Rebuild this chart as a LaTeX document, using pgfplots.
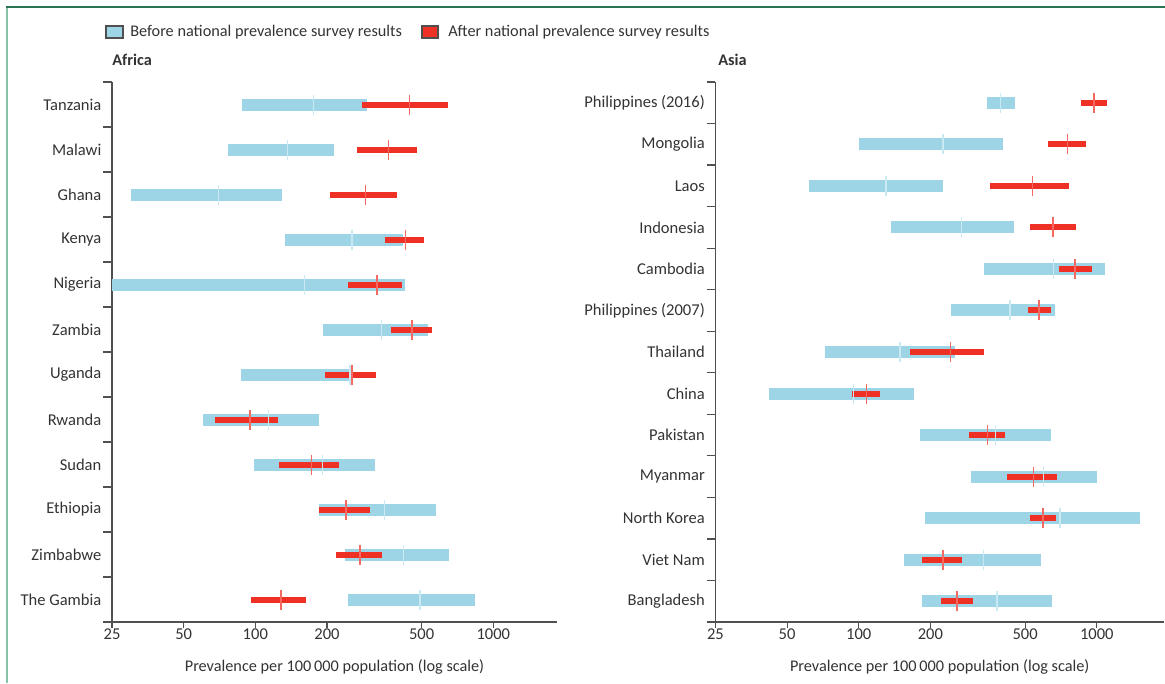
\documentclass[border=0pt]{standalone}
\usepackage{pgfplots}
\pgfplotsset{compat=1.18}
\usepackage{pgfplotstable}
\usepackage{fontspec}
\setmainfont{Carlito}

\definecolor{cBlue}{HTML}{9DD4E6}
\definecolor{cBlueTick}{HTML}{C9EAF5}
\definecolor{cRed}{HTML}{EE3124}
\definecolor{cRedTick}{HTML}{F46A63}
\definecolor{cText}{HTML}{333333}
\definecolor{cAxis}{HTML}{505050}
\definecolor{cFrameTop}{HTML}{2A7352}
\definecolor{cFrameLeft}{HTML}{86C4A6}

% ---------- Africa: before (blue) ranges, one segment per country ----------
\pgfplotstableread{
x y
88 11
294 11
nan nan
77 10
215 10
nan nan
30 9
129 9
nan nan
133 8
418 8
nan nan
25 7
424 7
nan nan
192 6
532 6
nan nan
87 5
255 5
nan nan
60 4
185 4
nan nan
99 3
318 3
nan nan
185 2
576 2
nan nan
237 1
654 1
nan nan
244 0
835 0
}\afB
% ---------- Africa: after (red) ranges ----------
\pgfplotstableread{
x y
280 11
647 11
nan nan
267 10
479 10
nan nan
205 9
395 9
nan nan
350 8
513 8
nan nan
244 7
412 7
nan nan
371 6
554 6
nan nan
197 5
323 5
nan nan
67.5 4
125 4
nan nan
126 3
225 3
nan nan
186 2
303 2
nan nan
219 1
340 1
nan nan
96 0
164 0
}\afR
% ---------- Africa: point estimates ----------
\pgfplotstableread{
y bmid rmid
11 175 444
10 137 363
9 70 291
8 255 427
7 161 324
6 340 456
5 250 255
4 114 95
3 192 172
2 350 240
1 420 275
0 492 128
}\afM

% ---------- Asia: before (blue) ranges ----------
\pgfplotstableread{
x y
347 12
453 12
nan nan
100 11
403 11
nan nan
61.5 10
226 10
nan nan
137 9
449 9
nan nan
337 8
1082 8
nan nan
244 7
668 7
nan nan
72 6
253 6
nan nan
42 5
171 5
nan nan
181 4
642 4
nan nan
297 3
1000 3
nan nan
190 2
1525 2
nan nan
155 1
582 1
nan nan
185 0
649 0
}\asB
% ---------- Asia: after (red) ranges ----------
\pgfplotstableread{
x y
860 12
1102 12
nan nan
624 11
901 11
nan nan
357 10
763 10
nan nan
525 9
817 9
nan nan
695 8
954 8
nan nan
513 7
642 7
nan nan
164 6
337 6
nan nan
94 5
123 5
nan nan
291 4
412 4
nan nan
420 3
680 3
nan nan
525 2
675 2
nan nan
185 1
272 1
nan nan
222 0
301 0
}\asR
% ---------- Asia: point estimates ----------
\pgfplotstableread{
y bmid rmid
12 395 975
11 226 755
10 130 538
9 271 656
8 656 811
7 432 572
6 149 243
5 95 108
4 375 348
3 595 542
2 700 595
1 334 226
0 381 259
}\asM

\begin{document}
\begin{tikzpicture}
\path[use as bounding box] (0,0) rectangle (873.75pt,-512.25pt);
\draw[cFrameLeft, line width=1.7pt] (5.2pt,-5.25pt) -- (5.2pt,-512.25pt);
\draw[cFrameTop, line width=1pt] (4.4pt,-5.25pt) -- (873.75pt,-5.25pt);

% legend
\draw[fill=cBlue, draw=cAxis, line width=0.8pt] (79.5pt,-19.5pt) rectangle (92.25pt,-28.5pt);
\node[anchor=west, inner sep=0pt, text=cText, font=\fontsize{12.2}{14}\selectfont] at (97.5pt,-24.4pt) {Before national prevalence survey results};
\draw[fill=cRed, draw=cAxis, line width=0.8pt] (316.5pt,-19.5pt) rectangle (328.5pt,-28.5pt);
\node[anchor=west, inner sep=0pt, text=cText, font=\fontsize{12.2}{14}\selectfont] at (336pt,-24.4pt) {After national prevalence survey results};

\begin{axis}[
  at={(84pt,-61.5pt)}, anchor=north west,
  scale only axis, width=333.75pt, height=405pt,
  xmode=log, xmin=25, xmax=1852,
  ymin=-0.5, ymax=11.5,
  axis x line*=bottom, axis y line*=left,
  axis line style={cAxis, line width=0.9pt},
  x axis line style={shorten <=-6.6pt},
  tick align=outside,
  major tick length=4.5pt, minor tick length=6.75pt,
  tick style={cAxis, line width=0.9pt},
  major y tick style={draw=none},
  minor x tick style={draw=none},
  xtick={25,50,100,200,500,1000},
  xticklabels={25,50,100,200,500,1000},
  ytick={0,...,11},
  yticklabels={The Gambia,Zimbabwe,Ethiopia,Sudan,Rwanda,Uganda,Zambia,Nigeria,Kenya,Ghana,Malawi,Tanzania},
  minor ytick={-0.5,0.5,...,11.5},
  tick label style={font=\fontsize{12.4}{14}\selectfont, text=cText},
  xticklabel style={inner sep=0.5pt},
  xlabel={Prevalence per 100\,000 population (log scale)},
  xlabel style={at={(axis description cs:0.5,0)}, anchor=center, yshift=-33.75pt,
                font=\fontsize{12.2}{14}\selectfont, text=cText},
  title={Africa},
  title style={at={(axis description cs:0,1)}, anchor=west, yshift=10.5pt, inner sep=0pt,
               font=\bfseries\fontsize{12.2}{14}\selectfont, text=cText},
  clip=false,
]
\addplot[draw=cBlue, line width=9pt, mark=none, unbounded coords=jump] table[x=x, y=y] {\afB};
\addplot[only marks, mark=|, mark size=7.5pt, mark options={draw=cBlueTick, line width=0.9pt}] table[x=bmid, y=y] {\afM};
\addplot[draw=cRed, line width=4.5pt, mark=none, unbounded coords=jump] table[x=x, y=y] {\afR};
\addplot[only marks, mark=|, mark size=7.5pt, mark options={draw=cRedTick, line width=1.1pt}] table[x=rmid, y=y] {\afM};
\end{axis}

\begin{axis}[
  at={(536.6pt,-61.5pt)}, anchor=north west,
  scale only axis, width=336.4pt, height=405pt,
  xmode=log, xmin=25, xmax=1916,
  ymin=-0.5, ymax=12.5,
  axis x line*=bottom, axis y line*=left,
  axis line style={cAxis, line width=0.9pt},
  x axis line style={shorten <=-6.6pt},
  tick align=outside,
  major tick length=4.5pt, minor tick length=6.75pt,
  tick style={cAxis, line width=0.9pt},
  major y tick style={draw=none},
  minor x tick style={draw=none},
  xtick={25,50,100,200,500,1000},
  xticklabels={25,50,100,200,500,1000},
  ytick={0,...,12},
  yticklabels={Bangladesh,Viet Nam,North Korea,Myanmar,Pakistan,China,Thailand,Philippines (2007),Cambodia,Indonesia,Laos,Mongolia,Philippines (2016)},
  minor ytick={-0.5,0.5,...,12.5},
  tick label style={font=\fontsize{12.4}{14}\selectfont, text=cText},
  xticklabel style={inner sep=0.5pt},
  xlabel={Prevalence per 100\,000 population (log scale)},
  xlabel style={at={(axis description cs:0.5,0)}, anchor=center, yshift=-33.75pt,
                font=\fontsize{12.2}{14}\selectfont, text=cText},
  title={Asia},
  title style={at={(axis description cs:0,1)}, anchor=west, yshift=10.5pt, xshift=1.9pt, inner sep=0pt,
               font=\bfseries\fontsize{12.2}{14}\selectfont, text=cText},
  clip=false,
]
\addplot[draw=cBlue, line width=9pt, mark=none, unbounded coords=jump] table[x=x, y=y] {\asB};
\addplot[only marks, mark=|, mark size=7.5pt, mark options={draw=cBlueTick, line width=0.9pt}] table[x=bmid, y=y] {\asM};
\addplot[draw=cRed, line width=4.5pt, mark=none, unbounded coords=jump] table[x=x, y=y] {\asR};
\addplot[only marks, mark=|, mark size=7.5pt, mark options={draw=cRedTick, line width=1.1pt}] table[x=rmid, y=y] {\asM};
\end{axis}
\end{tikzpicture}
\end{document}
